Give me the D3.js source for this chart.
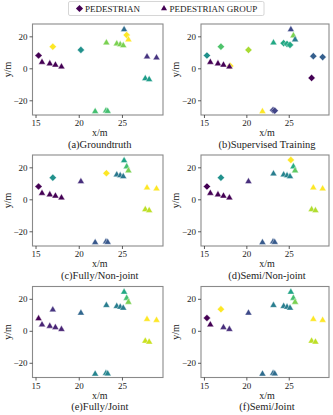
<!DOCTYPE html>
<html>
<head>
<meta charset="utf-8">
<script src="https://cdn.jsdelivr.net/npm/d3@7"></script>
<style>
  body { margin: 0; background: #fff; }
  svg { display: block; }
</style>
</head>
<body>
<svg id="chart" width="333" height="415"></svg>
<script>
// shared point positions (metres)
const xs = [15.35, 15.75, 16.65, 17.3, 18.1, 18.0, 17.0, 20.25, 23.2, 24.4, 24.8, 25.15, 25.25, 25.55, 25.75, 27.9, 29.0, 27.7, 28.15, 21.9, 23.15, 23.35];
const ys = [8.0, 4.2, 3.3, 2.5, 1.5, 1.3, 13.5, 11.5, 16.3, 15.7, 15.2, 14.6, 24.6, 20.8, 18.3, 7.6, 7.0, -6.0, -6.6, -26.6, -26.2, -26.5];

// per panel: marker kind (D = pedestrian, T = group, '_' = not shown) and colour value
const panelNames = ['(a)Groundtruth', '(b)Supervised Training', '(c)Fully/Non-joint', '(d)Semi/Non-joint', '(e)Fully/Joint', '(f)Semi/Joint'];
const shapesA = 'D T T T _ T D D T T T T T D T T T T T T T T';
const shapesB = 'D T T T D T D D T D D D T T T D D D _ T D D';
const shapesC = 'D T T T _ T D T D T T T T T T T T T T T T T';
const shapesD = 'D T T T _ T D T T T T T D T T T T T T T T T';
const shapesE = 'T T T T _ T T T T T T T T T T T T T T T T T';
const shapesF = 'D T _ T _ T D T T T T T T T T T T T T T T T';
const colorsA = [0, 0, 0, 0, 0, 0, 1, 0.5, 0.8, 0.8, 0.8, 0.8, 0.35, 1, 1, 0.15, 0.15, 0.55, 0.55, 0.7, 0.7, 0.7];
const colorsB = [0.5, 0, 0, 0, 1, 0, 0.72, 0.87, 0.6, 0.6, 0.6, 0.6, 0.22, 0.8, 0.42, 0.3, 0.3, 0, 0, 1, 0.2, 0.2];
const colorsC = [0, 0, 0, 0, 0, 0, 0.5, 0.13, 1, 0.4, 0.4, 0.4, 0.58, 0.7, 0.8, 1, 1, 0.9, 0.9, 0.27, 0.27, 0.27];
const colorsD = [0, 0, 0, 0, 0, 0, 0.5, 0.13, 0.42, 0.45, 0.45, 0.45, 1, 0.62, 0.75, 1, 1, 0.88, 0.88, 0.28, 0.28, 0.28];
const colorsE = [0, 0.1, 0.1, 0.1, 0, 0.1, 0.15, 0.33, 0.42, 0.42, 0.42, 0.42, 0.6, 0.7, 0.8, 1, 1, 0.92, 0.92, 0.45, 0.45, 0.45];
const colorsF = [0, 0, 0, 0.13, 0, 0.13, 1, 0.22, 0.42, 0.42, 0.42, 0.42, 0.58, 0.7, 0.8, 1, 1, 0.9, 0.9, 0.35, 0.35, 0.35];

const xTicks = [15, 20, 25];
const yTicks = [-20, 0, 20];
const legendLabels = ['PEDESTRIAN', 'PEDESTRIAN GROUP'];

const panels = [
  { name: panelNames[0], shapes: shapesA.split(' '), colors: colorsA },
  { name: panelNames[1], shapes: shapesB.split(' '), colors: colorsB },
  { name: panelNames[2], shapes: shapesC.split(' '), colors: colorsC },
  { name: panelNames[3], shapes: shapesD.split(' '), colors: colorsD },
  { name: panelNames[4], shapes: shapesE.split(' '), colors: colorsE },
  { name: panelNames[5], shapes: shapesF.split(' '), colors: colorsF },
];

const style = {
  fontFamily: '"Liberation Serif", "Times New Roman", serif',
  frameColor: '#8a8a8a',
  tickColor: '#333',
  textColor: '#222',
  tickSize: 9,
  labelSize: 10,
  captionSize: 10.5,
};

const svg = d3.select('#chart');

const colLeft = [32.5, 201];
const colWidth = [130.5, 128];
const rowTop = [24, 155, 286.5];
const plotH = 91;

const diamond = d3.symbol(d3.symbolSquare, 26);
const triangle = d3.symbol(d3.symbolTriangle, 21);

panels.forEach((p, i) => {
  const col = i % 2, row = Math.floor(i / 2);
  const left = colLeft[col], top = rowTop[row], w = colWidth[col];

  const xScale = d3.scaleLinear().domain([14.65, 29.75]).range([left, left + w]);
  const yScale = d3.scaleLinear().domain([-29.2, 27.7]).range([top + plotH, top]);

  const g = svg.append('g').attr('class', 'panel');

  // points
  const pts = xs.map((x, k) => ({ x, y: ys[k], s: p.shapes[k], c: p.colors[k] }))
    .filter(d => d.s === 'D' || d.s === 'T');

  g.selectAll('path.pt')
    .data(pts)
    .enter()
    .append('path')
      .attr('class', 'pt')
      .attr('d', d => d.s === 'D' ? diamond() : triangle())
      .attr('transform', d => `translate(${xScale(d.x)},${yScale(d.y) + (d.s === 'T' ? 0.6 : 0)})` + (d.s === 'D' ? ' rotate(45)' : ''))
      .attr('fill', d => d3.interpolateViridis(d.c))
      .attr('stroke', 'white')
      .attr('stroke-width', 0.4);

  // frame
  g.append('rect')
    .attr('x', left).attr('y', top)
    .attr('width', w).attr('height', plotH)
    .attr('fill', 'none')
    .attr('stroke', style.frameColor)
    .attr('stroke-width', 1.1);

  // axes
  const xAxis = g.append('g')
    .attr('transform', `translate(0,${top + plotH})`)
    .call(d3.axisBottom(xScale).tickValues(xTicks).tickSize(3).tickPadding(2));
  const yAxis = g.append('g')
    .attr('transform', `translate(${left},0)`)
    .call(d3.axisLeft(yScale).tickValues(yTicks).tickSize(3).tickPadding(2));

  [xAxis, yAxis].forEach(a => {
    a.attr('font-family', null);
    a.select('.domain').remove();
    a.selectAll('.tick line').attr('stroke', style.tickColor).attr('stroke-width', 0.8);
    a.selectAll('.tick text')
      .attr('fill', style.textColor)
      .style('font-family', style.fontFamily)
      .style('font-size', style.tickSize + 'px');
  });

  g.append('text')
    .attr('x', left + w / 2 + 2)
    .attr('y', top + plotH + 21)
    .attr('text-anchor', 'middle')
    .attr('fill', style.textColor)
    .style('font-family', style.fontFamily)
    .style('font-size', style.labelSize + 'px')
    .text('x/m');

  g.append('text')
    .attr('transform', `translate(${left - 22},${top + plotH / 2}) rotate(-90)`)
    .attr('text-anchor', 'middle')
    .attr('fill', style.textColor)
    .style('font-family', style.fontFamily)
    .style('font-size', style.labelSize + 'px')
    .text('y/m');

  g.append('text')
    .attr('x', left + w / 2 + 2)
    .attr('y', top + plotH + 32.5)
    .attr('text-anchor', 'middle')
    .attr('fill', style.textColor)
    .style('font-family', style.fontFamily)
    .style('font-size', style.captionSize + 'px')
    .text(p.name);
});

// legend
const legend = svg.append('g').attr('class', 'legend');
legend.append('rect')
  .attr('x', 68.5).attr('y', 1.5)
  .attr('width', 195.5).attr('height', 14)
  .attr('rx', 1.5)
  .attr('fill', 'white')
  .attr('stroke', '#cccccc')
  .attr('stroke-width', 0.8);

const legendX = [79.5, 164];
legendLabels.forEach((lab, i) => {
  legend.append('path')
    .attr('d', i === 0 ? diamond() : d3.symbol(d3.symbolTriangle, 16)())
    .attr('transform', `translate(${legendX[i]},${8.5})` + (i === 0 ? ' rotate(45)' : ''))
    .attr('fill', d3.interpolateViridis(0));
  legend.append('text')
    .attr('x', legendX[i] + 5.5)
    .attr('y', 12)
    .attr('fill', style.textColor)
    .style('font-family', style.fontFamily)
    .style('font-size', '9px')
    .text(lab);
});
</script>
</body>
</html>
